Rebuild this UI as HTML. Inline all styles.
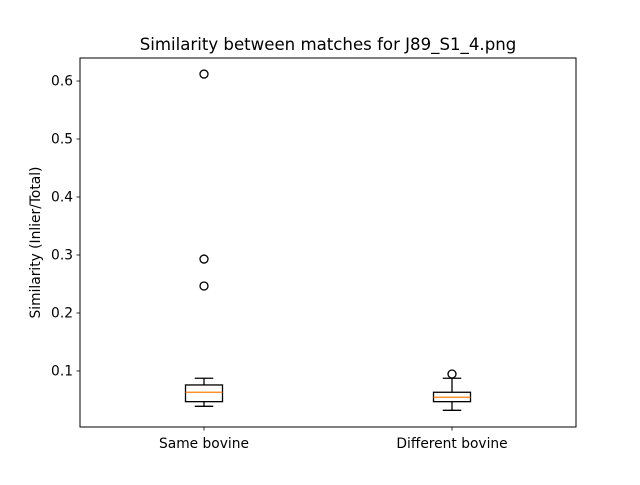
<!DOCTYPE html>
<html><head><meta charset="utf-8"><style>
body{margin:0;background:#fff;}
svg text{font-family:"DejaVu Sans","Liberation Sans",sans-serif;}
</style></head><body>
<svg id="chart" width="640" height="480" xmlns="http://www.w3.org/2000/svg">
<rect width="640" height="480" fill="#fff"/>
<text x="328" y="50" font-size="16.6" text-anchor="middle">Similarity between matches for J89_S1_4.png</text>
<text transform="translate(40,242.5) rotate(-90)" font-size="13.8" text-anchor="middle">Similarity (Inlier/Total)</text>
<g id="plot"></g>
<rect x="80" y="58" width="496" height="369" fill="none" stroke="#000" stroke-width="1"/>
</svg>
<script>
const categories = ["Same bovine", "Different bovine"];
const whiskerLow = [0.0391, 0.0322];
const q1 = [0.0471, 0.0471];
const median = [0.0633, 0.0547];
const q3 = [0.0759, 0.0633];
const whiskerHigh = [0.0874, 0.0874];
const outliers = [[0.612, 0.293, 0.2466], [0.0948]];
const yTicks = [0.1, 0.2, 0.3, 0.4, 0.5, 0.6];
const yTickLabels = ["0.1", "0.2", "0.3", "0.4", "0.5", "0.6"];

const L=80,R=576,T=58,B=427, yMin=0.0034, yMax=0.6397;
const y = v => B - (v - yMin)/(yMax - yMin)*(B - T);
const x = i => L + (i + 0.5)/categories.length*(R - L);
const ns="http://www.w3.org/2000/svg";
const g=document.getElementById('plot');
function mk(tag, attrs){const e=document.createElementNS(ns,tag);for(const k in attrs)e.setAttribute(k,attrs[k]);g.appendChild(e);return e;}

yTicks.forEach((v,i)=>{
  const t=mk('line',{x1:L-3.5,x2:L,y1:y(v),y2:y(v),stroke:'#000','stroke-width':0.8});
  
  
  const tx=mk('text',{x:L-7,y:y(v)+4.5,'font-size':13.8,'text-anchor':'end'});
  tx.textContent=yTickLabels[i];
  
  
});

const bw=37, cw=18.5;
categories.forEach((c,i)=>{
  const cx=x(i);
  const t=mk('line',{x1:cx,x2:cx,y1:B,y2:B+3.5,stroke:'#000','stroke-width':0.8});
  
  
  const tx=mk('text',{x:cx,y:B+21,'font-size':13.8,'text-anchor':'middle'});
  tx.textContent=c;
  
  
  const s={stroke:'#000','stroke-width':1.3,fill:'none'};
  const w1=mk('line',Object.assign({x1:cx,x2:cx,y1:y(q1[i]),y2:y(whiskerLow[i])},s));
  
  
  const w2=mk('line',Object.assign({x1:cx,x2:cx,y1:y(q3[i]),y2:y(whiskerHigh[i])},s));
  
  
  const c1=mk('line',Object.assign({x1:cx-cw/2,x2:cx+cw/2,y1:y(whiskerLow[i]),y2:y(whiskerLow[i])},s));
  
  
  const c2=mk('line',Object.assign({x1:cx-cw/2,x2:cx+cw/2,y1:y(whiskerHigh[i]),y2:y(whiskerHigh[i])},s));
  
  
  const bx=mk('rect',Object.assign({x:cx-bw/2,y:y(q3[i]),width:bw,height:y(q1[i])-y(q3[i])},s));
  
  
  const md=mk('line',{x1:cx-bw/2,x2:cx+bw/2,y1:y(median[i]),y2:y(median[i]),stroke:'#ff7f0e','stroke-width':1.3});
  
  
  outliers[i].forEach(v=>{
    const o=mk('circle',{cx:cx,cy:y(v),r:4,fill:'none',stroke:'#000','stroke-width':1.3});
    
    
  });
});
</script>
</body></html>
